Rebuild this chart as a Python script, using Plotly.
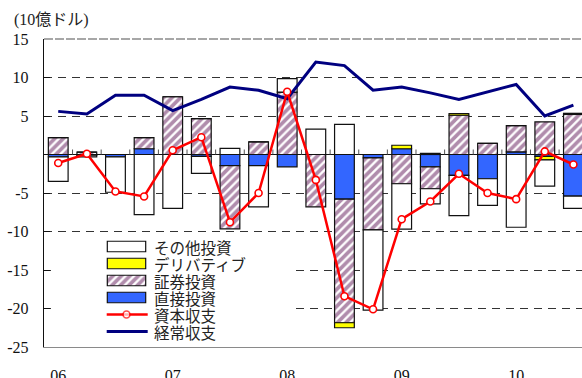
import plotly.graph_objects as go

# Quarterly balance of payments, 2006Q1 - 2010Q3 (billion USD)
quarters = ["06Q1", "06Q2", "06Q3", "06Q4", "07Q1", "07Q2", "07Q3", "07Q4",
            "08Q1", "08Q2", "08Q3", "08Q4", "09Q1", "09Q2", "09Q3", "09Q4",
            "10Q1", "10Q2", "10Q3"]
year_ticks = ["06Q1", "07Q1", "08Q1", "09Q1", "10Q1"]
year_labels = ["06", "07", "08", "09", "10"]

direct = [-0.3, -0.1, -0.3, 0.75, 0.0, -0.25, -1.45, -1.45, -1.6, 0.0,
          -5.8, -0.45, 0.75, -1.6, -2.7, -3.15, 0.35, -0.25, -5.4]
securities = [2.2, 0.3, 0.0, 1.45, 7.5, 4.65, -8.2, 1.65, 8.1, -6.8,
              -16.05, -9.35, -3.8, -2.85, 5.1, 1.45, 3.4, 4.25, 5.2]
derivatives = [0, 0, 0, 0, 0, 0, 0, 0, 0, 0,
               -0.65, 0, 0.45, 0.15, 0.2, 0, 0, -0.45, 0.15]
other = [-3.2, -0.2, -4.6, -7.8, -7.0, -2.2, 0.8, -5.35, 1.75, 3.3,
         3.9, -10.4, -5.9, -1.95, -5.25, -3.45, -9.45, -3.4, -1.6]
capital = [-1.1, 0.1, -4.8, -5.45, 0.55, 2.25, -8.8, -5.0, 8.15, -3.3,
           -18.4, -20.1, -8.4, -6.1, -2.5, -5.0, -5.8, 0.4, -1.3]
current = [5.6, 5.25, 7.7, 7.7, 5.7, 7.15, 8.75, 8.35, 7.25, 12.0,
           11.55, 8.35, 8.75, 8.0, 7.15, 8.15, 9.1, 5.0, 6.4]

y_ticks = [15, 10, 5, 0, -5, -10, -15, -20, -25]
y_labels = ["15", "10", "5", "", "-5", "-10", "-15", "-20", "-25"]

names = {
    "other": "その他投資",
    "deriv": "デリバティブ",
    "sec": "証券投資",
    "direct": "直接投資",
    "capital": "資本収支",
    "current": "経常収支",
}

SERIF = "Liberation Serif, Noto Sans CJK JP"
JP = "Noto Sans CJK JP"
BLUE = "#3366FF"
PURPLE = "#62195A"
YELLOW = "#FFFF00"
OUTLINE = dict(color="#111111", width=1.2)

W, H = 582, 378
ML, MR, MT, MB = 44, 0, 39, 31
PW, PH = W - ML - MR, H - MT - MB


def px_x(p):
    return (p - ML) / PW


def px_y(p):
    return (H - MB - p) / PH


# quarters are placed on a numeric axis by their position in the list
xi = list(range(len(quarters)))
year_pos = [quarters.index(q) for q in year_ticks]

styles = {
    "direct": dict(color=BLUE, line=OUTLINE),
    "sec": dict(color="white", line=OUTLINE,
                pattern=dict(shape="/", fgcolor=PURPLE, bgcolor="white",
                             size=6, solidity=0.62)),
    "deriv": dict(color=YELLOW, line=OUTLINE),
    "other": dict(color="white", line=OUTLINE),
}

fig = go.Figure()

# small ticks on the zero line between quarters
tick_x, tick_y = [], []
for i in xi[:-1]:
    tick_x += [i + 0.5, i + 0.5, None]
    tick_y += [0, 0.65, None]
fig.add_trace(go.Scatter(x=tick_x, y=tick_y, mode="lines",
                         line=dict(color="#555555", width=1),
                         showlegend=False, hoverinfo="skip"))

# stacked investment components (stacked outward from zero in this order)
for key, vals in [("direct", direct), ("sec", securities),
                  ("deriv", derivatives), ("other", other)]:
    fig.add_trace(go.Bar(x=xi, y=vals, name=names[key],
                         marker=styles[key], showlegend=False))

fig.add_trace(go.Scatter(x=xi, y=current, mode="lines",
                         line=dict(color="#000080", width=3),
                         name=names["current"], showlegend=False))
fig.add_trace(go.Scatter(x=xi, y=capital, mode="lines+markers",
                         line=dict(color="#FF0000", width=2.5),
                         marker=dict(symbol="circle", size=7, color="white",
                                     line=dict(color="#FF0000", width=1.6)),
                         name=names["capital"], showlegend=False))

# ---- legend drawn in its own pixel-scaled subplot ----
LX0, LX1, LY0, LY1 = 51, 290, 236, 341
rows = ["other", "deriv", "sec", "direct", "capital", "current"]
row_y = [246.5 + 17 * i for i in range(len(rows))]
sw_x0, sw_len, sw_h = 107.3, 38.4, 10.5

for key, ry in zip(rows, row_y):
    if key in styles:
        fig.add_trace(go.Bar(orientation="h", y=[ry], x=[sw_len], base=[sw_x0],
                             width=sw_h, marker=styles[key], showlegend=False,
                             hoverinfo="skip", xaxis="x2", yaxis="y2"))
    elif key == "capital":
        fig.add_trace(go.Scatter(x=[106.7, 126.5, 147.7], y=[ry, ry, ry],
                                 mode="lines+markers",
                                 line=dict(color="#FF0000", width=2.5),
                                 marker=dict(size=[0, 7, 0], color="white",
                                             line=dict(color="#FF0000", width=1.6)),
                                 showlegend=False, hoverinfo="skip",
                                 xaxis="x2", yaxis="y2"))
    else:
        fig.add_trace(go.Scatter(x=[106.7, 147.7], y=[ry, ry], mode="lines",
                                 line=dict(color="#000080", width=3),
                                 showlegend=False, hoverinfo="skip",
                                 xaxis="x2", yaxis="y2"))
    fig.add_annotation(x=151.5, y=ry, xref="x2", yref="y2", text=names[key],
                       showarrow=False, xanchor="left", yanchor="middle",
                       font=dict(family=JP, size=15.5, color="#222222"))

shapes = []
# white backing behind the legend hides the gridlines there
x_lo, x_hi = -0.497, 18.3
x_per_px = (x_hi - x_lo) / PW
y_per_px = 40.0 / PH
shapes.append(dict(type="rect", xref="x", yref="y", layer="between",
                   x0=x_lo + (LX0 - ML) * x_per_px, x1=x_lo + (LX1 - ML) * x_per_px,
                   y0=-25 + (H - MB - LY1) * y_per_px, y1=-25 + (H - MB - LY0) * y_per_px,
                   fillcolor="white", line=dict(width=0)))
# top frame line
shapes.append(dict(type="line", xref="paper", yref="paper", x0=0, x1=1, y0=1, y1=1,
                   layer="above", line=dict(color="#8a8a8a", width=1.6, dash="9px,2px")))

fig.update_layout(
    width=W, height=H,
    margin=dict(l=ML, r=MR, t=MT, b=MB, pad=0, autoexpand=False),
    paper_bgcolor="white", plot_bgcolor="white",
    barmode="relative", bargap=0.31,
    shapes=shapes,
    xaxis=dict(range=[x_lo, x_hi], tickmode="array", tickvals=year_pos,
               ticktext=year_labels, ticks="", showgrid=False, zeroline=False,
               showline=True, linecolor="#8a8a8a", linewidth=1.4,
               ticklabelstandoff=14, automargin=False,
               tickfont=dict(family=SERIF, size=16, color="#111111")),
    yaxis=dict(range=[-25, 15], tickmode="array", tickvals=y_ticks, ticktext=y_labels,
               ticks="inside", ticklen=6, tickcolor="#111111", tickwidth=1,
               showline=True, linecolor="#111111", linewidth=1.4,
               showgrid=True, gridcolor="#333333", gridwidth=1, griddash="8px,6px",
               zeroline=True, zerolinecolor="#111111", zerolinewidth=1.4,
               ticklabelstandoff=11, automargin=False,
               tickfont=dict(family=SERIF, size=16, color="#111111")),
    xaxis2=dict(domain=[px_x(LX0), px_x(LX1)], range=[LX0, LX1], anchor="y2",
                visible=False, fixedrange=True, automargin=False),
    yaxis2=dict(domain=[px_y(LY1), px_y(LY0)], range=[LY1, LY0], anchor="x2",
                visible=False, fixedrange=True, automargin=False),
    showlegend=False,
)

fig.add_annotation(x=px_x(12), y=px_y(20), xref="paper", yref="paper",
                   text="(10億ドル)", showarrow=False, xanchor="left",
                   yanchor="middle", font=dict(family=SERIF, size=16, color="#222222"))

fig.write_html("out.html")
